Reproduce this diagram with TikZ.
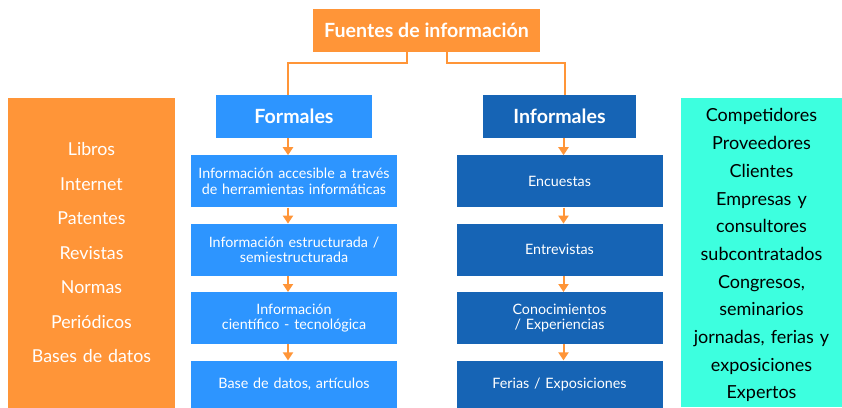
\documentclass[tikz,border=0pt]{standalone}
\usepackage{fontspec}
\setmainfont{Lato}
\usetikzlibrary{arrows.meta,positioning}
\definecolor{naranja}{HTML}{FF9538}
\definecolor{azul}{HTML}{2D95FF}
\definecolor{marino}{HTML}{1664B5}
\definecolor{turquesa}{HTML}{3DFFDF}

\begin{document}
\begin{tikzpicture}[x=1pt,y=-1pt,>={Triangle[width=10pt,length=8pt]},
        node distance=16pt,
        linea/.style={draw=naranja,line width=2pt},
        caja/.style={inner sep=0pt,text=white,align=center}]
  \tikzstyle{titulo}=[caja,font=\bfseries\fontsize{19.6}{22}\selectfont,minimum height=43pt]
  \tikzstyle{item}=[caja,font=\fontsize{14.3}{15.5}\selectfont,minimum width=206pt,
        minimum height=52pt,text width=204pt]
  \useasboundingbox (0,0) rectangle (842,407);

  \node[titulo,fill=naranja,minimum width=227pt] (fuentes) at (426.5,30.5) {Fuentes de información};
  \node[titulo,fill=azul,minimum width=156pt] (formales) at (294,116.5) {Formales};
  \node[titulo,fill=marino,minimum width=153pt] (informales) at (559.5,116.5) {Informales};

  \node[item,fill=azul] (f1) [below=17pt of formales] {Información accesible a través\\de herramientas informáticas};
  \node[item,fill=azul] (f2) [below=of f1] {Información estructurada /\\semiestructurada};
  \node[item,fill=azul] (f3) [below=of f2] {Información\\científico - tecnológica};
  \node[item,fill=azul,minimum height=48pt] (f4) [below=of f3] {Base de datos, artículos};

  \node[item,fill=marino] (i1) [below=17pt of informales] {Encuestas};
  \node[item,fill=marino] (i2) [below=of i1] {Entrevistas};
  \node[item,fill=marino] (i3) [below=of i2] {Conocimientos\\/ Experiencias};
  \node[item,fill=marino,minimum height=48pt] (i4) [below=of i3] {Ferias / Exposiciones};

  \node[caja,fill=naranja,minimum width=167pt,minimum height=310pt,text width=164pt,
        font=\fontsize{17.8}{34.5}\selectfont] (libros) at (91.5,253) {Libros\\Internet\\Patentes\\Revistas\\Normas\\Periódicos\\Bases de datos};
  \node[caja,fill=turquesa,text=black,minimum width=161pt,minimum height=309pt,text width=160pt,
        font=\fontsize{18}{27.7}\selectfont] (contactos) at (761.5,252.5) {\rule{0pt}{19pt}Competidores\\Proveedores\\Clientes\\Empresas y\\consultores\\subcontratados\\Congresos,\\seminarios\\jornadas, ferias y\\exposiciones\\Expertos};

  \draw[linea] ([xshift=-19.5pt]fuentes.south) -- ++(0,11) -| ([xshift=-6pt]formales.north);
  \draw[linea] ([xshift=20.5pt]fuentes.south) -- ++(0,11) -| ([xshift=5.5pt]informales.north);
  \foreach \a/\b in {formales/f1,f1/f2,f2/f3,f3/f4}
    \draw[linea,->] ([xshift=-6pt]\a.south) -- ([xshift=-6pt]\b.north);
  \foreach \a/\b in {informales/i1,i1/i2,i2/i3,i3/i4}
    \draw[linea,->] ([xshift=4pt]\a.south) -- ([xshift=4pt]\b.north);

\end{tikzpicture}
\end{document}
